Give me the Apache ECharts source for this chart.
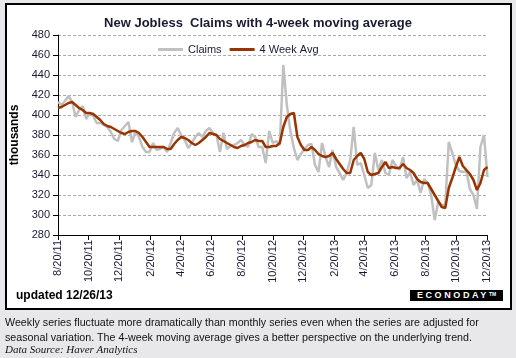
<!DOCTYPE html>
<html>
<head>
<meta charset="utf-8">
<script src="https://cdn.jsdelivr.net/npm/echarts@6/dist/echarts.min.js"></script>
<style>
  html, body { margin:0; padding:0; background:#e8e8ea; width:516px; height:358px; overflow:hidden; }
  #box { position:absolute; left:5px; top:3px; width:503px; height:303px; border:2px solid #000; background:#fff; }
  #chart { position:absolute; left:0; top:0; width:516px; height:358px; }
  #logo { position:absolute; left:410px; top:290px; width:93px; height:11px; background:#000; color:#fff;
          font:bold 9px "Liberation Sans", Arial, sans-serif; letter-spacing:2.6px; line-height:11px; text-align:center; }
  #logo sup { font-size:5px; letter-spacing:0; vertical-align:top; line-height:8px; }
</style>
</head>
<body>
<div id="box"></div>
<div id="logo">ECONODAY<sup>TM</sup></div>
<div id="chart"></div>
<script>
// Weekly dates (week ending, Saturdays)
const dates = [
 '2011-08-20','2011-08-27','2011-09-03','2011-09-10','2011-09-17','2011-09-24','2011-10-01','2011-10-08','2011-10-15','2011-10-22',
 '2011-10-29','2011-11-05','2011-11-12','2011-11-19','2011-11-26','2011-12-03','2011-12-10','2011-12-17','2011-12-24','2011-12-31',
 '2012-01-07','2012-01-14','2012-01-21','2012-01-28','2012-02-04','2012-02-11','2012-02-18','2012-02-25','2012-03-03','2012-03-10',
 '2012-03-17','2012-03-24','2012-03-31','2012-04-07','2012-04-14','2012-04-21','2012-04-28','2012-05-05','2012-05-12','2012-05-19',
 '2012-05-26','2012-06-02','2012-06-09','2012-06-16','2012-06-23','2012-06-30','2012-07-07','2012-07-14','2012-07-21','2012-07-28',
 '2012-08-04','2012-08-11','2012-08-18','2012-08-25','2012-09-01','2012-09-08','2012-09-15','2012-09-22','2012-09-29','2012-10-06',
 '2012-10-13','2012-10-20','2012-10-27','2012-11-03','2012-11-10','2012-11-17','2012-11-24','2012-12-01','2012-12-08','2012-12-15',
 '2012-12-22','2012-12-29','2013-01-05','2013-01-12','2013-01-19','2013-01-26','2013-02-02','2013-02-09','2013-02-16','2013-02-23',
 '2013-03-02','2013-03-09','2013-03-16','2013-03-23','2013-03-30','2013-04-06','2013-04-13','2013-04-20','2013-04-27','2013-05-04',
 '2013-05-11','2013-05-18','2013-05-25','2013-06-01','2013-06-08','2013-06-15','2013-06-22','2013-06-29','2013-07-06','2013-07-13',
 '2013-07-20','2013-07-27','2013-08-03','2013-08-10','2013-08-17','2013-08-24','2013-08-31','2013-09-07','2013-09-14','2013-09-21',
 '2013-09-28','2013-10-05','2013-10-12','2013-10-19','2013-10-26','2013-11-02','2013-11-09','2013-11-16','2013-11-23','2013-11-30',
 '2013-12-07','2013-12-14','2013-12-21'
];

// New jobless claims, thousands
const claims = [
 413,410,414,419,413,398,405,409,396,402,
 399,392,392,390,388,383,376,374,385,389,
 393,373,383,378,368,363,363,372,365,366,
 368,363,372,382,387,380,375,367,372,378,
 382,378,384,387,382,380,363,382,366,369,
 370,372,375,370,368,381,378,368,368,352,
 384,372,374,370,450,410,384,367,355,361,
 366,370,371,350,343,372,358,348,365,348,
 342,335,342,355,388,350,352,340,327,330,
 362,345,355,342,340,355,349,345,358,337,
 343,330,335,322,336,332,320,295,313,310,
 310,373,362,350,344,343,344,326,320,306,
 368,380,338
];

// 4-week moving average, thousands
const avg4 = [
 407,408,410,412,413,410,407,405,402,402,
 401,398,395,391,389,388,386,384,382,381,
 383,384,384,382,378,373,368,368,368,368,
 368,366,366,371,375,378,377,375,372,370,
 372,375,378,382,381,380,376,374,372,370,
 368,367,369,370,372,373,375,374,374,368,
 368,369,369,372,388,398,401,402,378,370,
 365,365,368,365,361,359,358,359,362,356,
 351,346,342,342,355,359,362,356,343,340,
 341,342,348,353,347,348,347,347,351,347,
 345,342,336,333,332,332,326,320,314,308,
 307,327,337,348,358,349,345,341,335,325,
 332,345,348
];

const tickLabels = ['8/20/11','10/20/11','12/20/11','2/20/12','4/20/12','6/20/12','8/20/12',
  '10/20/12','12/20/12','2/20/13','4/20/13','6/20/13','8/20/13','10/20/13','12/20/13'];

const seriesNames = ['Claims', '4 Week Avg'];

function parseMDY(s) {
  const p = s.split('/');
  return Date.UTC(2000 + (+p[2]), (+p[0]) - 1, +p[1]);
}
function parseISO(s) {
  const p = s.split('-');
  return Date.UTC(+p[0], (+p[1]) - 1, +p[2]);
}
const tickValues = tickLabels.map(parseMDY);
const xs = dates.map(parseISO);

const FONT = '"Liberation Sans", Arial, sans-serif';
const TXT = '#1a1a33';

const chart = echarts.init(document.getElementById('chart'), null, { renderer: 'canvas' });
chart.setOption({
  animation: false,
  backgroundColor: 'transparent',
  textStyle: { fontFamily: FONT },
  title: {
    text: 'New Jobless  Claims with 4-week moving average',
    left: 'center',
    top: 12,
    textStyle: { fontFamily: FONT, fontSize: 13, fontWeight: 'bold', color: TXT }
  },
  legend: {
    data: seriesNames,
    left: 153,
    top: 39,
    icon: 'rect',
    itemWidth: 25,
    itemHeight: 3,
    itemGap: 8,
    textStyle: { fontFamily: FONT, fontSize: 11, color: TXT }
  },
  grid: { left: 58, right: 28.5, top: 35, bottom: 123 },
  xAxis: {
    type: 'value',
    min: xs[0],
    max: xs[xs.length - 1],
    axisLine: { show: true, onZero: false, lineStyle: { color: '#000', width: 1 } },
    axisTick: { show: true, customValues: tickValues, length: 5, lineStyle: { color: '#000' } },
    axisLabel: {
      customValues: tickValues,
      rotate: 90,
      margin: 5,
      fontSize: 11,
      fontFamily: FONT,
      color: TXT,
      showMinLabel: true,
      showMaxLabel: true,
      hideOverlap: false,
      formatter: function (v) {
        const i = tickValues.indexOf(v);
        return i >= 0 ? tickLabels[i] : '';
      }
    },
    splitLine: { show: false }
  },
  yAxis: {
    type: 'value',
    min: 280,
    max: 480,
    interval: 20,
    name: 'thousands',
    nameLocation: 'middle',
    nameGap: 37,
    nameTextStyle: { fontFamily: FONT, fontSize: 12, fontWeight: 'bold', color: '#000' },
    axisLine: { show: true, lineStyle: { color: '#000', width: 1 } },
    axisTick: { show: true, length: 5, lineStyle: { color: '#000' } },
    axisLabel: { fontSize: 11, fontFamily: FONT, color: TXT, margin: 8 },
    splitLine: { show: true, lineStyle: { color: '#aaaaaa', type: [3, 2], width: 1 } }
  },
  series: [
    {
      name: seriesNames[0],
      type: 'line',
      data: xs.map((x, i) => [x, claims[i]]),
      showSymbol: false,
      symbol: 'none',
      color: '#c0c0c0',
      lineStyle: { color: '#c0c0c0', width: 2.5 },
      z: 2
    },
    {
      name: seriesNames[1],
      type: 'line',
      data: xs.map((x, i) => [x, avg4[i]]),
      showSymbol: false,
      symbol: 'none',
      color: '#993300',
      lineStyle: { color: '#993300', width: 2.5 },
      z: 3
    }
  ],
  graphic: [
    { type: 'text', x: 16, y: 296, style: { text: 'updated 12/26/13', font: 'bold 12px ' + FONT, fill: '#000', verticalAlign: 'middle' } },
    { type: 'text', x: 5, y: 323, style: { text: 'Weekly series fluctuate more dramatically than monthly series even when the series are adjusted for', font: '10.7px ' + FONT, fill: '#111', verticalAlign: 'middle' } },
    { type: 'text', x: 5, y: 338, style: { text: 'seasonal variation. The 4-week moving average gives a better perspective on the underlying trend.', font: '10.7px ' + FONT, fill: '#111', verticalAlign: 'middle' } },
    { type: 'text', x: 5, y: 350, style: { text: 'Data Source: Haver Analytics', font: 'italic 11px "Liberation Serif", "Times New Roman", serif', fill: '#111', verticalAlign: 'middle' } }
  ]
});
</script>
</body>
</html>
